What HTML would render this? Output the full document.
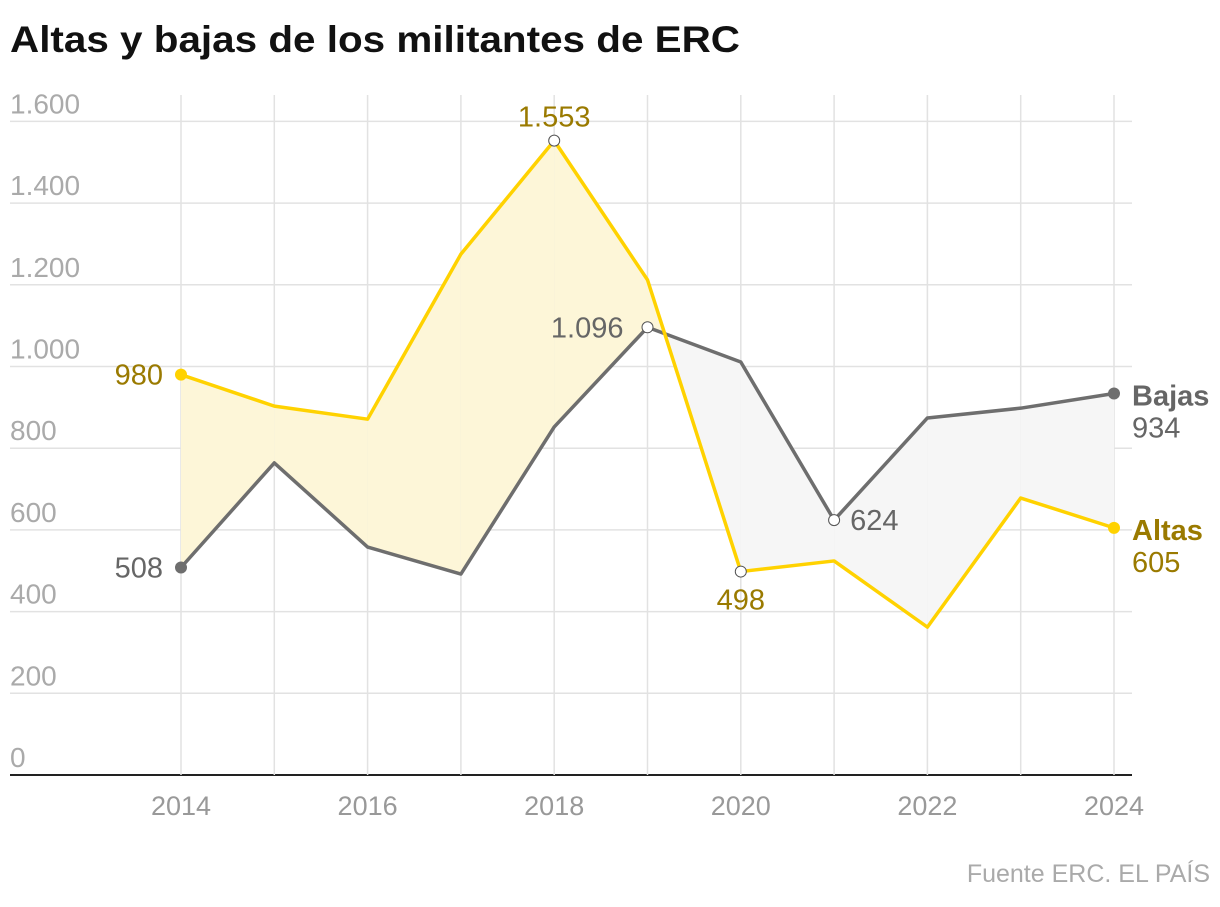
<!DOCTYPE html>
<html><head><meta charset="utf-8">
<style>
body{margin:0;background:#fff;width:1220px;height:902px;overflow:hidden;font-family:"Liberation Sans",sans-serif;}
</style></head>
<body>
<svg id="chart" width="1220" height="902" xmlns="http://www.w3.org/2000/svg" font-family="Liberation Sans, sans-serif">
<text x="10" y="52" font-size="37" font-weight="bold" fill="#111" textLength="730" lengthAdjust="spacingAndGlyphs">Altas y bajas de los militantes de ERC</text>
<g id="grid"></g><g id="fills"></g><g id="lines"></g><g id="labels"></g>
<text x="1210" y="882" font-size="25" fill="#aaa" text-anchor="end">Fuente ERC. EL PAÍS</text>
</svg>
<script>
const years=[2014,2015,2016,2017,2018,2019,2020,2021,2022,2023,2024];
const altas=[980,903,871,1275,1553,1212,498,524,362,678,605];
const bajas=[508,764,558,492,852,1096,1011,624,874,898,934];
const yTicks=[0,200,400,600,800,1000,1200,1400,1600];
const yTickLabels=["0","200","400","600","800","1.000","1.200","1.400","1.600"];
const xTicks=[2014,2016,2018,2020,2022,2024];
const NS="http://www.w3.org/2000/svg";
const x=v=>181+(v-2014)*93.3;
const y=v=>775-v*0.4085;
function mk(tag,attrs,parent,txt){const e=document.createElementNS(NS,tag);for(const k in attrs)e.setAttribute(k,attrs[k]);if(txt!==undefined)e.textContent=txt;document.getElementById(parent).appendChild(e);return e;}
yTicks.forEach((t,i)=>{
 let l=mk('line',{x1:10,x2:1132,y1:y(t),y2:y(t),stroke:t===0?'#222':'#e2e2e2','stroke-width':t===0?2:1.5},'grid');
 
 
 let tx=mk('text',{x:10,y:y(t)-8,'font-size':28,fill:'#aaa'},'grid',yTickLabels[i]);
 
 
});
years.forEach(yr=>{
 let l=mk('line',{x1:x(yr),x2:x(yr),y1:95,y2:775,stroke:'#e2e2e2','stroke-width':1.5},'grid');
 
 
});
xTicks.forEach(yr=>{
 let tx=mk('text',{x:x(yr),y:815,'font-size':27,fill:'#999','text-anchor':'middle'},'grid',yr);
 
 
});
for(let i=0;i<years.length-1;i++){
 const a0=altas[i],a1=altas[i+1],b0=bajas[i],b1=bajas[i+1];
 const d0=a0-b0,d1=a1-b1;
 if(d0*d1<0){const t=d0/(d0-d1);const xm=years[i]+t,vm=a0+(a1-a0)*t;
  const tris=[[[years[i],a0],[xm,vm],[years[i],b0],d0>0],[[xm,vm],[years[i+1],a1],[years[i+1],b1],d1>0]];
  tris.forEach(s=>{const pts=`${x(s[0][0])},${y(s[0][1])} ${x(s[1][0])},${y(s[1][1])} ${x(s[2][0])},${y(s[2][1])}`;
   let p=mk('polygon',{points:pts,fill:s[3]?'#fdf6d8':'#f6f6f6'},'fills');
   
   });
 } else {
  const pts=`${x(years[i])},${y(a0)} ${x(years[i+1])},${y(a1)} ${x(years[i+1])},${y(b1)} ${x(years[i])},${y(b0)}`;
  let p=mk('polygon',{points:pts,fill:(d0+d1)>0?'#fdf6d8':'#f6f6f6'},'fills');
  
  
 }
}
const bl=mk('polyline',{points:years.map((yr,i)=>x(yr)+','+y(bajas[i])).join(' '),fill:'none',stroke:'#6e6e6e','stroke-width':3.5,'stroke-linejoin':'round'},'lines');


const al=mk('polyline',{points:years.map((yr,i)=>x(yr)+','+y(altas[i])).join(' '),fill:'none',stroke:'#ffd200','stroke-width':3.5,'stroke-linejoin':'round'},'lines');


function fmt(v){return v>=1000?Math.floor(v/1000)+'.'+String(v%1000).padStart(3,'0'):String(v);}
function dot(i,arr,col,filled){let c=mk('circle',{cx:x(years[i]),cy:y(arr[i]),r:filled?6:5.5,fill:filled?col:'#fff',stroke:filled?'none':'#555','stroke-width':1},'labels');
 
 }
function lab(tx,xx,yy,col,anchor,bold){let t=mk('text',{x:xx,y:yy,'font-size':29,fill:col,'text-anchor':anchor,'font-weight':bold?'bold':'normal'},'labels',tx);
 
 }
const ac='#9a7a00',bc='#666';
dot(0,altas,'#ffd200',true);lab(fmt(altas[0]),x(2014)-18,y(altas[0])+10,ac,'end');
dot(0,bajas,'#6e6e6e',true);lab(fmt(bajas[0]),x(2014)-18,y(bajas[0])+10,bc,'end');
dot(4,altas,'',false);lab(fmt(altas[4]),x(2018),y(altas[4])-14,ac,'middle');
dot(5,bajas,'',false);lab(fmt(bajas[5]),x(2019)-24,y(bajas[5])+10,bc,'end');
dot(6,altas,'',false);lab(fmt(altas[6]),x(2020),y(altas[6])+38,ac,'middle');
dot(7,bajas,'',false);lab(fmt(bajas[7]),x(2021)+16,y(bajas[7])+10,bc,'start');
dot(10,bajas,'#6e6e6e',true);dot(10,altas,'#ffd200',true);
lab('Bajas',1132,y(bajas[10])+12,bc,'start',true);lab(fmt(bajas[10]),1132,y(bajas[10])+44,bc,'start');
lab('Altas',1132,y(altas[10])+12,ac,'start',true);lab(fmt(altas[10]),1132,y(altas[10])+44,ac,'start');
</script>
</body></html>
